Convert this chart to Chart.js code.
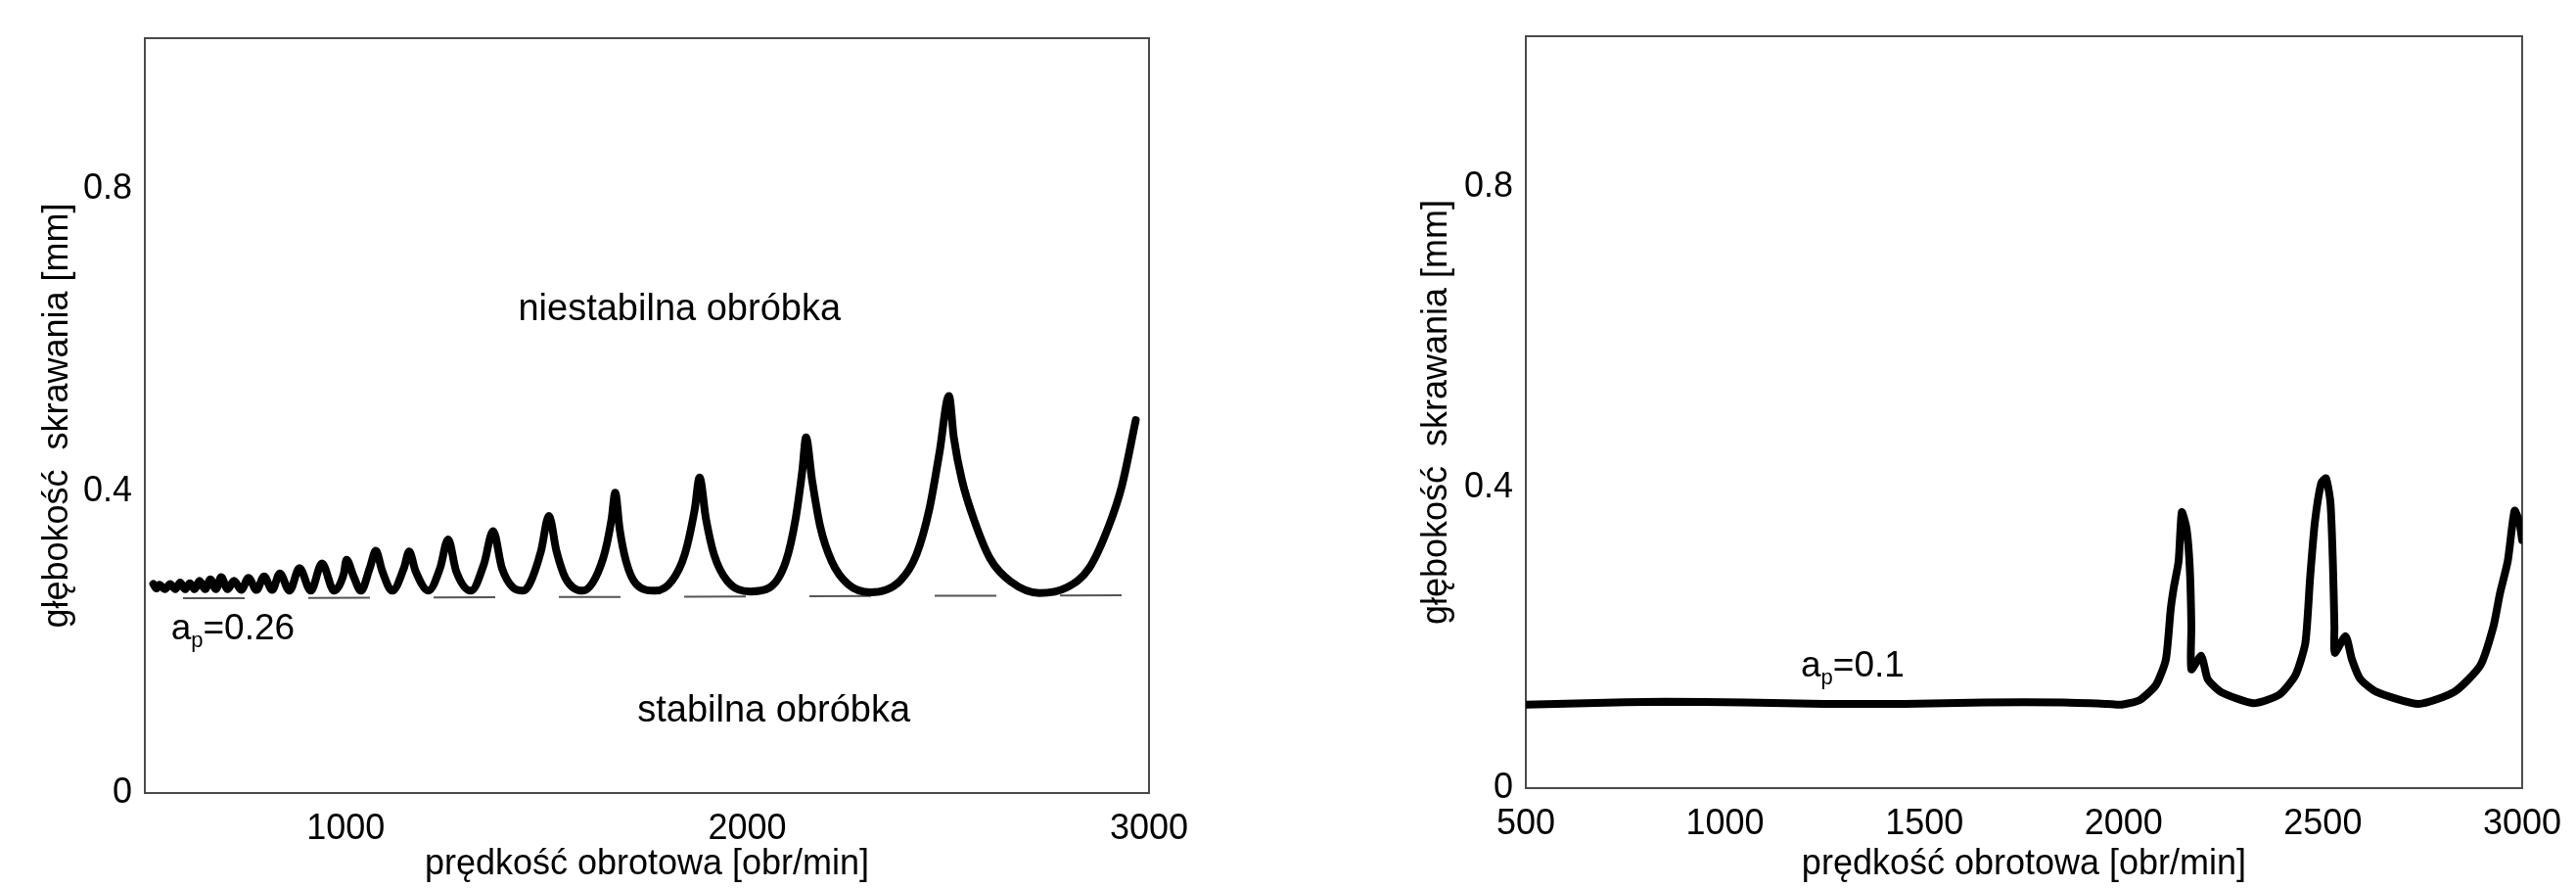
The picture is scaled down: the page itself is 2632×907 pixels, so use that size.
<!DOCTYPE html>
<html lang="pl">
<head>
<meta charset="UTF-8">
<title>Wykresy stabilności obróbki</title>
<script src="https://cdn.jsdelivr.net/npm/chart.js"></script>
<style>
  html, body { margin: 0; padding: 0; background: #fff; }
  .panel { position: absolute; top: 0; width: 1316px; height: 907px; }
  #leftPanel { left: 0; }
  #rightPanel { left: 1316px; }
</style>
</head>
<body>
<div class="panel" id="leftPanel"><canvas id="leftChart"></canvas></div>
<div class="panel" id="rightPanel"><canvas id="rightChart"></canvas></div>

<script>
  // left panel: stability lobes
  const leftSpeed = [521, 529, 536, 550, 563, 576, 588, 600, 612, 624, 636, 650, 663, 677, 690, 706, 722, 740,
    758, 778, 797, 817, 836, 860, 885, 913, 941, 971, 995, 1002, 1019, 1038, 1060, 1075, 1091, 1116,
    1145, 1158, 1174, 1206, 1235, 1255, 1275, 1312, 1344, 1367, 1389, 1417, 1442, 1458, 1486, 1506,
    1525, 1547, 1590, 1641, 1662, 1671, 1682, 1698, 1723, 1771, 1812, 1844, 1869, 1881, 1897, 1917,
    1950, 2007, 2055, 2096, 2120, 2137, 2146, 2161, 2181, 2210, 2250, 2307, 2380, 2421, 2453, 2478,
    2502, 2514, 2534, 2567, 2605, 2656, 2727, 2794, 2851, 2900, 2932, 2967];
  const leftDepth = [0.277, 0.271, 0.276, 0.270, 0.277, 0.270, 0.279, 0.270, 0.278, 0.270, 0.281, 0.270, 0.283, 0.270, 0.286, 0.270, 0.281, 0.269,
    0.285, 0.269, 0.287, 0.269, 0.291, 0.268, 0.298, 0.268, 0.304, 0.268, 0.290, 0.309, 0.288, 0.268, 0.298, 0.321, 0.294, 0.268,
    0.298, 0.320, 0.294, 0.268, 0.298, 0.336, 0.294, 0.268, 0.303, 0.347, 0.298, 0.272, 0.268, 0.277, 0.320, 0.367,
    0.320, 0.285, 0.268, 0.311, 0.363, 0.398, 0.350, 0.307, 0.277, 0.268, 0.281, 0.316, 0.376, 0.418, 0.363, 0.316,
    0.281, 0.267, 0.272, 0.307, 0.363, 0.428, 0.471, 0.415, 0.354, 0.307, 0.277, 0.266, 0.281, 0.316, 0.376, 0.450,
    0.526, 0.471, 0.415, 0.358, 0.310, 0.280, 0.265, 0.272, 0.298, 0.354, 0.406, 0.494];

  // left panel: a_p = 0.26 reference line
  const apLeftSpeed = [595, 2938];
  const apLeftDepth = [0.258, 0.262];

  // right panel: measured limit curve
  const rightSpeed = [500, 650, 850, 1050, 1250, 1450, 1650, 1850, 1960, 1995, 2040, 2081, 2106, 2118, 2126, 2138,
    2146, 2158, 2166, 2170, 2170, 2195, 2211, 2244, 2325, 2390, 2431, 2456, 2468, 2480, 2496, 2508,
    2519, 2525, 2529, 2530, 2557, 2573, 2594, 2635, 2740, 2830, 2895, 2928, 2944, 2964, 2981, 2993, 3000];
  const rightDepth = [0.111, 0.113, 0.115, 0.114, 0.112, 0.112, 0.114, 0.114, 0.112, 0.111, 0.117, 0.137, 0.171, 0.237, 0.267, 0.302,
    0.367, 0.345, 0.293, 0.215, 0.158, 0.176, 0.145, 0.128, 0.113, 0.124, 0.150, 0.193, 0.280, 0.354, 0.406, 0.412,
    0.380, 0.302, 0.215, 0.180, 0.202, 0.171, 0.145, 0.128, 0.112, 0.128, 0.163, 0.215, 0.258, 0.302, 0.369, 0.354, 0.330];

  const xTicksLeft = [1000, 2000, 3000];
  const xTicksRight = [500, 1000, 1500, 2000, 2500, 3000];
  const yTicks = [0, 0.4, 0.8];

  const FONT = '"Liberation Sans", Arial, sans-serif';
  Chart.defaults.font.family = FONT;
  Chart.defaults.color = '#000';

  const toPoints = (xs, ys) => xs.map((x, i) => ({x: x, y: ys[i]}));

  // box around the plot area
  const framePlugin = {
    id: 'frame',
    beforeDatasetsDraw(chart) {
      const {ctx, chartArea: a} = chart;
      ctx.save();
      ctx.strokeStyle = '#4a4a4a';
      ctx.lineWidth = 2;
      ctx.strokeRect(a.left, a.top, a.right - a.left, a.bottom - a.top);
      ctx.restore();
    }
  };

  // text labels inside the plot, positioned in data units
  const notesPlugin = {
    id: 'notes',
    afterDatasetsDraw(chart, args, opts) {
      const {ctx, scales} = chart;
      ctx.save();
      ctx.fillStyle = '#000';
      ctx.textBaseline = 'alphabetic';
      ctx.textAlign = 'left';
      (opts.items || []).forEach(item => {
        let width = 0;
        item.parts.forEach(p => {
          ctx.font = p.size + 'px ' + FONT;
          width += ctx.measureText(p.text).width;
        });
        let px = scales.x.getPixelForValue(item.x);
        if (item.align === 'center') px -= width / 2;
        const py = scales.y.getPixelForValue(item.y);
        item.parts.forEach(p => {
          ctx.font = p.size + 'px ' + FONT;
          ctx.fillText(p.text, px, py + (p.dy || 0));
          px += ctx.measureText(p.text).width;
        });
      });
      ctx.restore();
    }
  };

  function makeScales(xTicks, yWidth, xHeight) {
    return {
      x: {
        type: 'linear',
        min: 500,
        max: 3000,
        grid: {display: false, drawTicks: false},
        border: {display: false},
        afterBuildTicks: s => { s.ticks = xTicks.map(v => ({value: v})); },
        afterFit: s => { s.height = xHeight; },
        ticks: {
          padding: 15, autoSkip: false, maxRotation: 0, minRotation: 0,
          font: {size: 36}, color: '#000',
          callback: v => String(v)
        },
        title: {
          display: true, text: 'prędkość obrotowa [obr/min]',
          font: {size: 36}, color: '#000', padding: {top: 0, bottom: 2}
        }
      },
      y: {
        type: 'linear',
        min: 0,
        max: 1,
        grid: {display: false, drawTicks: false},
        border: {display: false},
        afterBuildTicks: s => { s.ticks = yTicks.map(v => ({value: v})); },
        afterFit: s => { s.width = yWidth; },
        ticks: {
          padding: 13, autoSkip: false,
          font: {size: 36}, color: '#000',
          callback: v => String(v)
        },
        title: {
          display: true, text: 'głębokość  skrawania [mm]',
          font: {size: 36}, color: '#000', padding: {top: 37, bottom: 0}
        }
      }
    };
  }

  const common = {
    responsive: true,
    maintainAspectRatio: false,
    animation: false,
    events: [],
    plugins: {legend: {display: false}, tooltip: {enabled: false}}
  };

  new Chart(document.getElementById('leftChart'), {
    type: 'line',
    data: {
      datasets: [{
        data: toPoints(leftSpeed, leftDepth),
        borderColor: '#000',
        borderWidth: 8,
        pointRadius: 0,
        cubicInterpolationMode: 'monotone',
        borderCapStyle: 'round',
        borderJoinStyle: 'round'
      }, {
        data: toPoints(apLeftSpeed, apLeftDepth),
        borderColor: '#555',
        borderWidth: 2,
        pointRadius: 0,
        borderDash: [63, 65],
        tension: 0
      }]
    },
    options: {
      ...common,
      layout: {padding: {left: 0, right: 142, top: 39, bottom: 0}},
      scales: makeScales(xTicksLeft, 148, 97),
      plugins: {
        ...common.plugins,
        notes: {
          items: [
            {x: 1831, y: 0.626, align: 'center', parts: [{text: 'niestabilna obróbka', size: 38}]},
            {x: 2066, y: 0.095, align: 'center', parts: [{text: 'stabilna obróbka', size: 38}]},
            {x: 565, y: 0.203, align: 'left', parts: [
              {text: 'a', size: 37}, {text: 'p', size: 22, dy: 8}, {text: '=0.26', size: 37}]}
          ]
        }
      }
    },
    plugins: [framePlugin, notesPlugin]
  });

  new Chart(document.getElementById('rightChart'), {
    type: 'line',
    data: {
      datasets: [{
        data: toPoints(rightSpeed, rightDepth),
        borderColor: '#000',
        borderWidth: 8,
        pointRadius: 0,
        tension: 0.2,
        borderCapStyle: 'round',
        borderJoinStyle: 'round'
      }]
    },
    options: {
      ...common,
      layout: {padding: {left: 93, right: 49, top: 37, bottom: 0}},
      scales: makeScales(xTicksRight, 150, 102),
      plugins: {
        ...common.plugins,
        notes: {
          items: [
            {x: 1190, y: 0.148, align: 'left', parts: [
              {text: 'a', size: 37}, {text: 'p', size: 22, dy: 8}, {text: '=0.1', size: 37}]}
          ]
        }
      }
    },
    plugins: [framePlugin, notesPlugin]
  });
</script>
</body>
</html>
